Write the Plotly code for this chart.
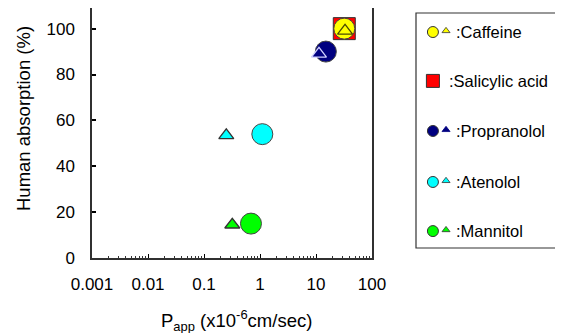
import plotly.graph_objects as go

# ---- data ----
compounds = ["Caffeine", "Salicylic acid", "Propranolol", "Atenolol", "Mannitol"]
colors = ["#FFFF00", "#FF0000", "#000080", "#00FFFF", "#00FF00"]
# circles (one set of measurements)
circle_names = ["Caffeine", "Propranolol", "Atenolol", "Mannitol"]
circle_papp = [32, 15, 1.1, 0.69]
circle_abs = [100, 90, 54, 15]
# triangles (second set of measurements)
tri_names = ["Caffeine", "Propranolol", "Atenolol", "Mannitol"]
tri_papp = [33, 11.3, 0.25, 0.32]
tri_abs = [99, 89, 53.5, 14.5]
# square
square_names = ["Salicylic acid"]
square_papp = [32]
square_abs = [100]

x_tickvals = [0.001, 0.01, 0.1, 1, 10, 100]
x_ticktext = ["0.001", "0.01", "0.1", "1", "10", "100"]
x_minor_vals = [m * 10.0 ** e for e in range(-3, 2) for m in range(2, 10)]
y_tickvals = [0, 20, 40, 60, 80, 100]

# browser body margin offset
OFF = 8
W, H = 555, 325
FONT = "Liberation Sans, Arial, sans-serif"
cmap = dict(zip(compounds, colors))

# plot-area pixel box (page coordinates)
PL, PR, PT, PB = 92, 372, 8, 258
# legend box pixel (page coordinates)
LL, LR, LT, LB = 416, 557, 13, 248


def px(x):
    return (x - OFF) / W


def py(y):
    return 1 - (y - OFF) / H


fig = go.Figure()

# square
fig.add_trace(go.Scatter(
    x=square_papp, y=square_abs, mode="markers",
    marker=dict(symbol="square", size=22, color=[cmap[n] for n in square_names],
                line=dict(color="#333333", width=1)),
    showlegend=False, hoverinfo="skip"))
# circles
fig.add_trace(go.Scatter(
    x=circle_papp, y=circle_abs, mode="markers",
    marker=dict(symbol="circle", size=21, color=[cmap[n] for n in circle_names],
                line=dict(color="#444444", width=1)),
    showlegend=False, hoverinfo="skip"))
# triangles
tri_line = {"Caffeine": "#4a4a00", "Propranolol": "#d0d0ff", "Atenolol": "#333333", "Mannitol": "#333333"}
tri_fill = {"Caffeine": "rgba(0,0,0,0)", "Propranolol": "#000080", "Atenolol": "#00FFFF", "Mannitol": "#00FF00"}
fig.add_trace(go.Scatter(
    x=tri_papp, y=tri_abs, mode="markers",
    marker=dict(symbol="triangle-up", size=13, color=[tri_fill[n] for n in tri_names],
                line=dict(color=[tri_line[n] for n in tri_names], width=1.3)),
    showlegend=False, hoverinfo="skip"))

# ---- custom legend (separate hidden axes) ----
leg_rows = [0.919, 0.711, 0.498, 0.281, 0.072]
leg_circle = {"Caffeine": 0, "Propranolol": 2, "Atenolol": 3, "Mannitol": 4}
fig.add_trace(go.Scatter(
    x=[0.12] * 4, y=[leg_rows[leg_circle[n]] for n in circle_names],
    mode="markers", xaxis="x2", yaxis="y2",
    marker=dict(symbol="circle", size=11, color=[cmap[n] for n in circle_names],
                line=dict(color="#333333", width=1)),
    showlegend=False, hoverinfo="skip"))
fig.add_trace(go.Scatter(
    x=[0.213] * 4, y=[leg_rows[leg_circle[n]] + 0.005 for n in tri_names],
    mode="markers", xaxis="x2", yaxis="y2",
    marker=dict(symbol="triangle-up", size=7,
                color=[cmap[n] for n in tri_names],
                line=dict(color=["#333333", "#000080", "#333333", "#333333"], width=0.8)),
    showlegend=False, hoverinfo="skip"))
fig.add_trace(go.Scatter(
    x=[0.12], y=[leg_rows[1]], mode="markers", xaxis="x2", yaxis="y2",
    marker=dict(symbol="square", size=13, color=cmap["Salicylic acid"],
                line=dict(color="#333333", width=1)),
    showlegend=False, hoverinfo="skip"))

leg_text_x = [0.27, 0.22, 0.27, 0.27, 0.27]
for i, name in enumerate(compounds):
    fig.add_annotation(x=leg_text_x[i], y=leg_rows[i], xref="x2", yref="y2",
                       text=":" + name, showarrow=False, xanchor="left", yanchor="middle",
                       font=dict(family=FONT, size=16.5, color="black"))

# legend border
fig.add_shape(type="rect", xref="paper", yref="paper",
              x0=px(LL), x1=px(LR), y0=py(LB), y1=py(LT),
              line=dict(color="#333333", width=1.2), fillcolor="rgba(0,0,0,0)")

# axis titles
fig.add_annotation(x=px(236), y=py(320), xref="paper", yref="paper",
                   text="P<sub>app</sub> (x10<sup>-6</sup>cm/sec)", showarrow=False,
                   xanchor="center", yanchor="middle",
                   font=dict(family=FONT, size=18.5, color="black"))
fig.add_annotation(x=px(23), y=py(119), xref="paper", yref="paper",
                   text="Human absorption (%)", showarrow=False, textangle=-90,
                   xanchor="center", yanchor="middle",
                   font=dict(family=FONT, size=18.5, color="black"))

fig.update_layout(
    width=W, height=H,
    margin=dict(l=0, r=0, t=0, b=0),
    paper_bgcolor="white", plot_bgcolor="white",
    font=dict(family=FONT, color="black"),
    xaxis=dict(
        type="log", range=[-3, 2.0], domain=[px(PL), px(PR)],
        tickvals=x_tickvals, ticktext=x_ticktext,
        ticks="inside", ticklen=4, tickwidth=1, tickcolor="black",
        minor=dict(tickvals=x_minor_vals, ticks="inside", ticklen=2.5, tickwidth=1,
                   tickcolor="#333333", showgrid=False),
        showgrid=False, zeroline=False,
        showline=True, linecolor="#303030", linewidth=1.5, mirror=True,
        tickfont=dict(family=FONT, size=17, color="black"),
        ticklabelstandoff=10, automargin=False,
    ),
    yaxis=dict(
        range=[0, 109], domain=[py(PB), py(PT)],
        tickvals=y_tickvals,
        ticks="inside", ticklen=4, tickwidth=1.5, tickcolor="black",
        showgrid=False, zeroline=False,
        showline=True, linecolor="#303030", linewidth=1.5, mirror=True,
        tickfont=dict(family=FONT, size=17, color="black"),
        ticklabelstandoff=12, automargin=False,
    ),
    xaxis2=dict(domain=[px(LL), px(LR)], range=[0, 1], visible=False, anchor="y2"),
    yaxis2=dict(domain=[py(LB), py(LT)], range=[0, 1], visible=False, anchor="x2"),
)

fig.write_html("out.html")
